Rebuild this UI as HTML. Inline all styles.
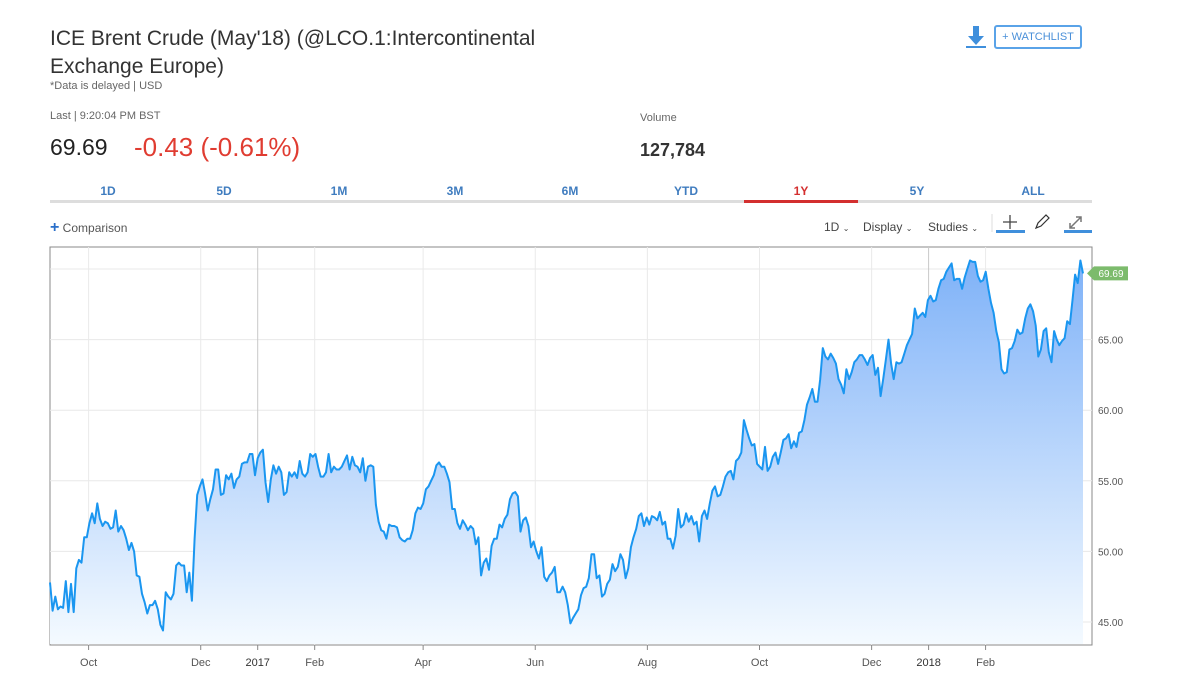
<!DOCTYPE html>
<html><head><meta charset="utf-8">
<style>
body{margin:0;width:1200px;height:699px;background:#fff;font-family:"Liberation Sans",sans-serif;position:relative;overflow:hidden;color:#333}
.a{position:absolute;white-space:nowrap}
.tab{position:absolute;top:184px;width:116px;text-align:center;font-size:12px;font-weight:bold;color:#3f7cbf}
</style></head><body>
<div class="a" style="left:50px;top:25px;font-size:21px;line-height:28px;color:#333">ICE Brent Crude (May'18) (@LCO.1:Intercontinental<br>Exchange Europe)</div>
<div class="a" style="left:50px;top:80px;font-size:11px;color:#666">*Data is delayed | USD</div>
<div class="a" style="left:50px;top:110px;font-size:11px;color:#666">Last | 9:20:04 PM BST</div>
<div class="a" style="left:50px;top:134px;font-size:23px;color:#222">69.69</div>
<div class="a" style="left:134px;top:132px;font-size:26px;color:#e03c31">-0.43 (-0.61%)</div>
<div class="a" style="left:640px;top:112px;font-size:11px;color:#666">Volume</div>
<div class="a" style="left:640px;top:140px;font-size:18px;font-weight:bold;color:#333">127,784</div>
<svg class="a" style="left:965px;top:25px" width="22" height="24"><path d="M8 1h6v10h5l-8 9-8-9h5z" fill="#3f8fdc"/><rect x="1" y="21" width="20" height="2" fill="#3f8fdc"/></svg>
<div class="a" style="left:994px;top:25px;width:84px;height:20px;border:2px solid #5aa3e8;border-radius:3px;font-size:11px;color:#4a90d9;text-align:center;line-height:20px">+ WATCHLIST</div>
<div class="a" style="left:50px;top:200px;width:1042px;height:3px;background:#ddd"></div>
<div class="a" style="left:744px;top:200px;width:114px;height:3px;background:#d32f2f"></div>
<div class="tab" style="left:50px">1D</div>
<div class="tab" style="left:166px">5D</div>
<div class="tab" style="left:281px">1M</div>
<div class="tab" style="left:397px">3M</div>
<div class="tab" style="left:512px">6M</div>
<div class="tab" style="left:628px">YTD</div>
<div class="tab" style="left:743px;color:#d32f2f">1Y</div>
<div class="tab" style="left:859px">5Y</div>
<div class="tab" style="left:975px">ALL</div>
<div class="a" style="left:50px;top:219px;font-size:12px;color:#555"><b style="color:#2a6fc9;font-size:16px">+</b> Comparison</div>
<div class="a" style="left:824px;top:220px;font-size:12px;color:#444">1D <span style="font-size:8px">⌄</span></div>
<div class="a" style="left:863px;top:220px;font-size:12px;color:#444">Display <span style="font-size:8px">⌄</span></div>
<div class="a" style="left:928px;top:220px;font-size:12px;color:#444">Studies <span style="font-size:8px">⌄</span></div>
<svg class="a" style="left:990px;top:210px" width="105" height="25"><line x1="2" y1="4" x2="2" y2="22" stroke="#ddd"/><path d="M20 5v14M13 12h14" stroke="#444" stroke-width="1.3"/><rect x="6" y="20" width="29" height="3" fill="#3f8fdc"/><path d="M46 18l2-5 8-8 3 3-8 8z" fill="none" stroke="#333" stroke-width="1.2"/><path d="M80 18l11-11M86 7h5v5M80 13v5h5" stroke="#777" stroke-width="1.5" fill="none"/><rect x="74" y="20" width="28" height="3" fill="#3f8fdc"/></svg>
<svg class="a" id="chart" style="left:0;top:0" width="1200" height="699"></svg>
<script>
const values=[47.8,45.8,46.8,45.9,46.1,46.0,47.9,45.7,47.7,45.7,48.8,49.4,49.2,51.0,51.0,52.0,52.7,52.0,53.4,52.3,51.8,52.1,52.0,51.6,51.7,52.9,51.4,51.8,51.5,50.9,50.1,50.6,50.0,48.3,48.2,47.0,46.4,45.6,46.2,46.2,46.5,45.9,44.8,44.4,47.1,46.8,46.6,47.0,49.0,49.2,49.0,49.0,47.1,48.5,46.5,50.9,54.0,54.6,55.1,54.1,52.9,53.7,54.4,55.8,55.8,54.0,54.1,55.4,55.1,55.5,54.5,55.1,55.3,56.2,56.3,56.3,56.9,56.9,55.4,56.6,57.0,57.2,54.9,53.5,55.1,56.1,55.5,56.0,55.6,54.0,54.2,55.6,55.3,55.6,55.2,56.4,55.5,55.3,55.6,56.9,56.7,56.9,56.0,55.3,55.3,55.6,56.9,55.6,56.0,55.8,55.8,56.0,56.4,56.8,55.8,56.7,56.1,56.0,55.6,56.6,55.0,56.0,56.1,56.0,53.3,52.1,51.5,51.4,50.9,51.9,51.8,51.8,51.7,51.0,50.8,50.7,50.9,50.9,51.5,52.7,53.1,53.0,53.4,54.4,54.6,55.0,55.4,56.1,56.3,56.0,56.0,55.5,54.9,53.0,53.0,52.0,51.6,52.2,51.9,51.5,51.8,51.6,50.5,51.0,48.3,49.2,49.5,48.7,50.4,50.9,50.9,51.9,51.7,52.3,52.6,53.7,54.1,54.2,53.9,51.4,52.2,52.4,51.8,50.3,50.7,50.0,49.5,50.3,48.2,47.9,48.3,48.5,48.9,47.1,47.1,47.5,47.1,46.2,44.9,45.3,45.6,45.9,46.9,47.4,47.5,48.1,49.8,49.8,48.1,48.3,
46.8,47.0,47.7,48.0,49.1,48.6,48.9,49.8,49.4,48.1,48.8,50.3,51.0,51.6,52.5,52.7,51.8,52.4,51.9,52.5,52.4,52.2,52.8,51.9,52.1,50.9,50.9,50.2,51.1,53.0,51.7,51.9,52.7,52.1,52.5,51.9,52.1,50.7,52.5,52.9,52.3,53.4,54.3,54.6,53.9,54.0,54.6,55.3,55.6,55.7,55.1,56.4,56.6,57.0,59.3,58.6,58.0,57.5,57.6,56.2,56.0,55.8,57.4,55.7,56.0,56.7,57.0,56.2,57.0,57.9,58.0,58.3,57.3,57.8,57.4,58.4,58.5,59.3,60.4,60.9,61.5,60.6,60.6,62.2,64.4,63.8,63.6,64.0,63.7,63.3,62.2,61.8,61.2,62.9,62.2,62.7,63.4,63.6,63.9,63.9,63.6,63.2,63.7,63.9,62.5,63.0,61.0,62.2,63.6,65.0,63.3,62.2,63.4,63.3,63.4,64.0,64.6,65.0,65.4,67.2,66.5,66.7,66.9,66.6,67.8,68.1,67.7,67.8,68.6,69.2,69.3,69.8,70.1,70.4,69.2,69.3,69.3,68.6,69.4,70.0,70.6,70.5,70.5,69.5,69.1,69.2,69.8,68.6,67.6,66.9,65.6,64.8,62.9,62.6,62.7,64.3,64.4,64.9,65.7,65.4,65.5,66.5,67.2,67.5,67.0,66.0,63.8,64.3,65.6,65.8,64.1,63.4,65.6,65.0,64.6,64.9,65.1,66.3,66.1,67.8,69.6,69.0,70.6,69.69];
const yTicks=[45,50,55,60,65,70];
const yTickLabels=["45.00","50.00","55.00","60.00","65.00",""];
const xTickLabels=["Oct","Dec","2017","Feb","Apr","Jun","Aug","Oct","Dec","2018","Feb"];
const xTickDates=["2016-10-01","2016-12-01","2017-01-01","2017-02-01","2017-04-01","2017-06-01","2017-08-01","2017-10-01","2017-12-01","2018-01-01","2018-02-01"];
const startDate="2016-09-10", endDate="2018-03-26";
const lastPrice=69.69;

const NS="http://www.w3.org/2000/svg";
const svg=document.getElementById('chart');
const L=50,R=1092,T=247,B=645,X0=50,X1=1083;
const t0=Date.parse(startDate),t1=Date.parse(endDate);
const xDate=d=>X0+(Date.parse(d)-t0)/(t1-t0)*(X1-X0);
const xIdx=i=>X0+i/(values.length-1)*(X1-X0);
const y=v=>622-(v-45)*14.12;
function mk(tag,attrs){const e=document.createElementNS(NS,tag);for(const k in attrs)e.setAttribute(k,attrs[k]);svg.appendChild(e);return e;}
const defs=mk('defs',{});
defs.innerHTML='<linearGradient id="g" x1="0" y1="0" x2="0" y2="1"><stop offset="0" stop-color="#7fb2f8"/><stop offset="1" stop-color="#f4faff"/></linearGradient>';
const frame=mk('rect',{x:L,y:T,width:R-L,height:B-T,fill:'#fff',stroke:'#888','stroke-width':1});


yTicks.forEach((v,i)=>{
  const g=mk('line',{x1:L,x2:R,y1:y(v),y2:y(v),stroke:'#e8e8e8'});
  
  
  if(yTickLabels[i]){
    const t=mk('text',{x:R+6,y:y(v)+4,'font-size':10,fill:'#555','font-family':'Liberation Sans, sans-serif'});
    t.textContent=yTickLabels[i];
    
    
  }
});
xTickDates.forEach((d,i)=>{
  const x=xDate(d);
  const yr=/^\d{4}$/.test(xTickLabels[i]);
  const g=mk('line',{x1:x,x2:x,y1:T,y2:B,stroke:yr?'#c8c8c8':'#eaeaea'});
  
  
  const tk=mk('line',{x1:x,x2:x,y1:B,y2:B+5,stroke:'#888'});
  
  
  const t=mk('text',{x:x,y:B+21,'font-size':11,fill:yr?'#333':'#555','text-anchor':'middle','font-family':'Liberation Sans, sans-serif'});
  t.textContent=xTickLabels[i];
  
  
});
let pts=values.map((v,i)=>xIdx(i).toFixed(1)+','+y(v).toFixed(1)).join(' L');
const area=mk('path',{d:'M'+X0+','+(B-1)+' L'+pts+' L'+X1+','+(B-1)+' Z',fill:'url(#g)'});


const line=mk('path',{d:'M'+pts,fill:'none',stroke:'#1a96f0','stroke-width':2,'stroke-linejoin':'round'});


const py=y(lastPrice);
const tag=mk('path',{d:`M${R-5},${py} L${R+2},${py-7} H${R+36} V${py+7} H${R+2} Z`,fill:'#7cbb6c'});


const tt=mk('text',{x:R+19,y:py+3.5,'font-size':10,fill:'#fff','text-anchor':'middle','font-family':'Liberation Sans, sans-serif'});
tt.textContent=lastPrice.toFixed(2);


</script>
</body></html>
